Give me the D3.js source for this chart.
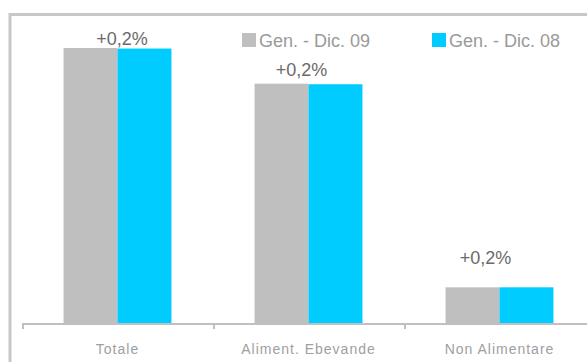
<!DOCTYPE html>
<html>
<head>
<meta charset="utf-8">
<script src="https://cdn.jsdelivr.net/npm/d3@7"></script>
<style>
  body { margin: 0; background: #fff; }
  svg { display: block; font-family: 'Liberation Sans', Arial, sans-serif; }
</style>
</head>
<body>
<div id="chart"></div>
<script>
// data
const categories = ['Totale', 'Aliment. Ebevande', 'Non Alimentare']
const seriesNames = ['Gen. - Dic. 09', 'Gen. - Dic. 08']
const dic09 = [100.2, 87.2, 13.0]
const dic08 = [100.0, 87.0, 13.0]
const changeLabels = ['+0,2%', '+0,2%', '+0,2%']

const colors = ['#bfbfbf', '#00ccff']
const W = 587, H = 362
const axisY = 323

const svg = d3.select('#chart').append('svg')
  .attr('width', W).attr('height', H)

// outer frame (runs off the right and bottom edges)
svg.append('rect')
  .attr('x', 10).attr('y', 14.5)
  .attr('width', W + 20).attr('height', H + 20)
  .attr('fill', 'none')
  .attr('stroke', '#c8c8c8')
  .attr('stroke-width', 3)

const x0 = d3.scaleBand()
  .domain(categories)
  .range([22, 595])

const x1 = d3.scaleBand()
  .domain(seriesNames)
  .range([0, x0.bandwidth()])
  .paddingOuter(0.77)

const y = d3.scaleLinear()
  .domain([0, d3.max(dic09)])
  .range([axisY, 48])

const rows = categories.map((c, i) => ({ cat: c, vals: [dic09[i], dic08[i]], label: changeLabels[i] }))

// bars
const groups = svg.selectAll('.grp').data(rows).enter()
  .append('g').attr('class', 'grp')
  .attr('transform', d => 'translate(' + x0(d.cat) + ',0)')

groups.selectAll('rect')
  .data(d => d.vals.map((v, j) => ({ s: seriesNames[j], v: v, j: j })))
  .enter().append('rect')
  .attr('x', d => x1(d.s))
  .attr('y', d => y(d.v))
  .attr('width', x1.bandwidth())
  .attr('height', d => axisY - y(d.v))
  .attr('fill', d => colors[d.j])

// axis: labels centred, ticks at band edges
const xAxis = svg.append('g')
  .attr('transform', 'translate(0,' + axisY + ')')
  .call(d3.axisBottom(x0).tickSize(0).tickPadding(21))
xAxis.select('.domain').remove()
xAxis.selectAll('text')
  .attr('fill', '#a0a0a0')
  .style('font-size', '14px')
  .style('letter-spacing', '1px')
  .style('font-family', "'Liberation Sans', Arial, sans-serif")

svg.append('line')
  .attr('x1', x0.range()[0]).attr('x2', x0.range()[1])
  .attr('y1', axisY + 1).attr('y2', axisY + 1)
  .attr('stroke', '#c0c0c0').attr('stroke-width', 2)

const edges = categories.map(c => x0(c)).concat([x0.range()[1]])
svg.selectAll('.edge').data(edges).enter().append('line')
  .attr('class', 'edge')
  .attr('x1', d => d + 1).attr('x2', d => d + 1)
  .attr('y1', axisY).attr('y2', axisY + 6)
  .attr('stroke', '#c0c0c0').attr('stroke-width', 2)

// change labels, hand-placed like in the original
const labelNudge = [[4.5, -3], [-7, -8], [-14, -23]]
svg.selectAll('.chg').data(rows).enter().append('text')
  .attr('class', 'chg')
  .attr('x', (d, i) => x0(d.cat) + x0.bandwidth() / 2 + labelNudge[i][0])
  .attr('y', (d, i) => y(d.vals[0]) + labelNudge[i][1])
  .attr('text-anchor', 'middle')
  .attr('fill', '#6a6a6a')
  .style('font-size', '18px')
  .text(d => d.label)

// legend
const legX = [242, 432]
const leg = svg.selectAll('.leg').data(seriesNames).enter()
  .append('g').attr('class', 'leg')
  .attr('transform', (d, i) => 'translate(' + legX[i] + ',33)')
leg.append('rect')
  .attr('width', 14).attr('height', 14)
  .attr('fill', (d, i) => colors[i])
leg.append('text')
  .attr('x', 17).attr('y', 14)
  .attr('fill', '#9a9a9a')
  .style('font-size', '18px')
  .text(d => d)
</script>
</body>
</html>
